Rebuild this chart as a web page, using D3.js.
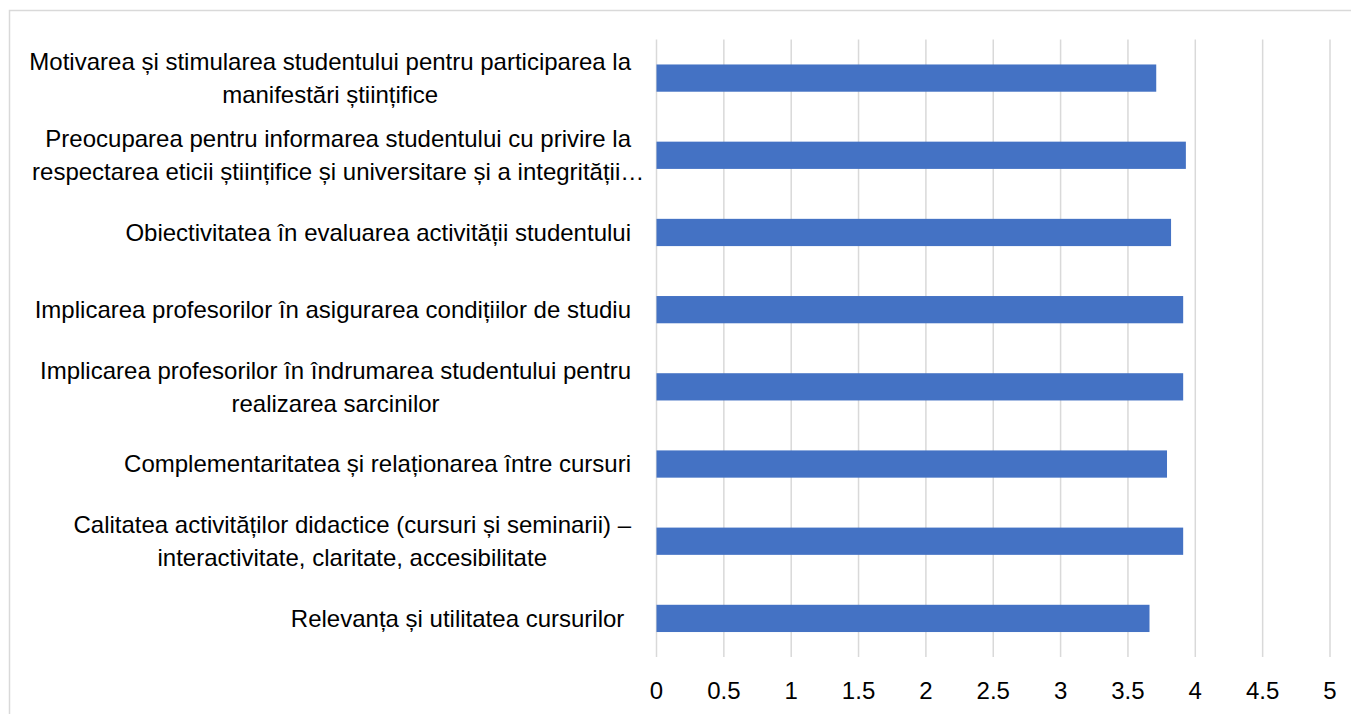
<!DOCTYPE html>
<html>
<head>
<meta charset="utf-8">
<script src="https://cdn.jsdelivr.net/npm/d3@7"></script>
<style>
  body { margin: 0; background: #fff; }
  svg { display: block; }
  text { font-family: "Liberation Sans", Arial, sans-serif; fill: #000; white-space: pre; }
</style>
</head>
<body>
<div id="chart"></div>
<script>
// categorii, de sus in jos (fiecare rand = o linie de eticheta)
const categories = [
  ["Motivarea și stimularea studentului pentru participarea la", "manifestări științifice"],
  ["Preocuparea pentru informarea studentului cu privire la", "respectarea eticii științifice și universitare și a integrității…"],
  ["Obiectivitatea în evaluarea activității studentului"],
  ["Implicarea profesorilor în asigurarea condițiilor de studiu"],
  ["Implicarea profesorilor în îndrumarea studentului pentru", "realizarea sarcinilor"],
  ["Complementaritatea și relaționarea între cursuri"],
  ["Calitatea activităților didactice (cursuri și seminarii) –", "interactivitate, claritate, accesibilitate"],
  ["Relevanța și utilitatea cursurilor "]
];
const values = [3.71, 3.93, 3.82, 3.91, 3.91, 3.79, 3.91, 3.66];
const xTicks = [0, 0.5, 1, 1.5, 2, 2.5, 3, 3.5, 4, 4.5, 5];

const W = 1351, H = 714;
const plot = { left: 656.5, right: 1330, top: 39.5, bottom: 657 };
const labelRight = 631;
const fontSize = 24;

const svg = d3.select("#chart").append("svg").attr("width", W).attr("height", H);

// chenarul graficului
svg.append("rect")
  .attr("x", 9.5).attr("y", 10.5).attr("width", W + 10).attr("height", H + 10)
  .attr("fill", "none").attr("stroke", "#d9d9d9").attr("stroke-width", 1.5);

const x = d3.scaleLinear().domain([0, 5]).range([plot.left, plot.right]);
const y = d3.scaleBand().domain(d3.range(categories.length))
  .range([plot.top, plot.bottom]).paddingInner(0.647).paddingOuter(0.3235);

// grila verticala
svg.append("g").selectAll("line").data(xTicks).join("line")
  .attr("x1", d => x(d)).attr("x2", d => x(d))
  .attr("y1", plot.top).attr("y2", plot.bottom)
  .attr("stroke", "#d9d9d9").attr("stroke-width", 1.5);

// bare
svg.append("g").selectAll("rect").data(values).join("rect")
  .attr("x", x(0))
  .attr("y", (d, i) => y(i))
  .attr("width", d => x(d) - x(0))
  .attr("height", y.bandwidth())
  .attr("fill", "#4472c4");

// etichete axa x
svg.append("g").selectAll("text").data(xTicks).join("text")
  .attr("x", d => x(d)).attr("y", 691)
  .attr("text-anchor", "middle").attr("dy", "0.35em")
  .style("font-size", fontSize + "px")
  .text(d => d);

// etichete categorii: bloc centrat, aliniat la dreapta dupa primul rand
const lineH = 33;
const lab = svg.append("g");
categories.forEach((lines, i) => {
  const cy = y(i) + y.bandwidth() / 2;
  const probe = lab.append("text").style("font-size", fontSize + "px").text(lines[0]);
  const w = probe.node().getComputedTextLength();
  probe.remove();
  const cx = labelRight - w / 2;
  lines.forEach((t, j) => {
    lab.append("text")
      .attr("x", cx)
      .attr("y", cy + (j - (lines.length - 1) / 2) * lineH)
      .attr("text-anchor", "middle").attr("dy", "0.35em")
      .style("font-size", fontSize + "px")
      .text(t);
  });
});
</script>
</body>
</html>
